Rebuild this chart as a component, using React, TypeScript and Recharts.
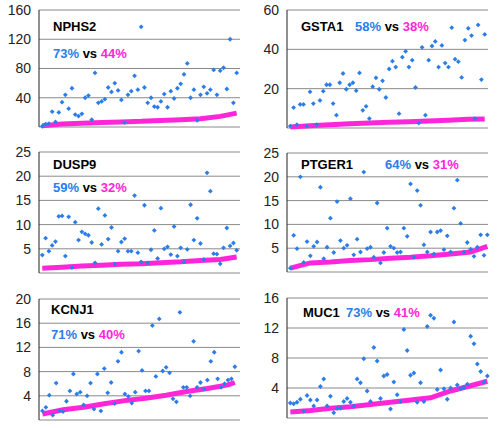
import React from 'react';
import { ScatterChart, Scatter, XAxis, YAxis, CartesianGrid } from 'recharts';

const BLUE = '#2b7de9';
const PINK = '#ff26d9';

// blue dots, one per sample, in the order they appear left to right
const nphs2Blue = [1, 4, 4.5, 21, 7, 20, 34, 44, 25, 53, 17, 15, 18, 40, 43, 10, 74, 33, 35, 38, 54, 48, 60, 50, 37, 6, 44, 49, 70, 51, 137, 54, 33, 40, 28, 27, 35, 45, 27, 49, 39, 53, 59, 72, 87, 40, 51, 9, 44, 55, 46, 51, 78, 44, 77, 81, 52, 120, 33, 74];
const gsta1Blue = [1, 10.4, 1.7, 12, 12, 1, 18.4, 12.4, 1.7, 14, 18.7, 22, 22, 12.4, 6.5, 23, 27.7, 19.7, 22, 23, 19, 28, 9, 11, 4.8, 21, 25.5, 19.7, 24, 15.5, 30, 34, 31, 7.3, 36, 39, 31, 34.5, 20.6, 2.5, 41, 6.5, 34.5, 41.7, 44, 31, 42, 33, 31, 51, 35, 33.7, 25.7, 44.7, 50.7, 47, 4.8, 52.4, 24.6, 47.6];
const dusp9Blue = [3.7, 7.2, 4.5, 5.7, 6.5, 11.7, 11.8, 3.5, 11.6, 1.1, 10.5, 6.8, 8.5, 8.1, 7.8, 6.3, 2.1, 13.3, 5.9, 11.9, 7, 9.4, 1.9, 4.5, 6.4, 7.1, 4.5, 4.5, 16, 4.2, 2.3, 14, 2.1, 4.8, 8.8, 3, 13.4, 5, 5.4, 3.8, 9.6, 3.5, 5.2, 2.3, 4.9, 14.1, 6.8, 11.3, 6.1, 2.8, 20.7, 16.9, 4, 3.9, 1.9, 5.2, 9.3, 5.6, 6.2, 4.7];
const ptger1Blue = [0.8, 7.7, 4.9, 20, 2, 6.4, 3.4, 5.4, 6.3, 17.8, 2.8, 5.2, 11.3, 4.1, 14.8, 6.6, 5, 5.6, 15.4, 3.6, 6.9, 4.2, 21, 4.9, 5.2, 3.1, 14.5, 1.9, 4.1, 9.2, 5.4, 5, 4.1, 4.2, 9.2, 7.5, 18.5, 3.1, 17.1, 14, 5.7, 4.2, 8.4, 3.8, 8.4, 8.7, 4.7, 7.6, 4.2, 13.4, 19.3, 10.2, 4.2, 6.2, 4.8, 3.3, 5.2, 7.8, 3.5, 7.8];
const kcnj1Blue = [1.5, 2.1, 4.1, 0.8, 6.1, 1.5, 1.4, 3.1, 4.8, 7.6, 4.3, 4.6, 2.5, 4, 6.1, 1.8, 7.6, 1.5, 8.5, 4.5, 6.2, 2.7, 9.7, 11.2, 4.3, 3.9, 2.8, 4.6, 11.4, 8.2, 4.8, 4.8, 15.6, 7.2, 16.7, 8.1, 8.7, 7.8, 3.5, 3, 17.8, 5.4, 5.4, 4, 13, 5.4, 6.2, 5.1, 6.6, 9.7, 11.2, 6.8, 5.4, 6, 6.6, 6.8, 8.8];
const muc1Blue = [2, 1.9, 2.1, 2.5, 0.9, 3, 2.4, 1.6, 2.4, 4.2, 5.2, 1.6, 2.9, 0.7, 1.3, 1.3, 2.2, 2.6, 2.1, 1.6, 5.2, 4.7, 7.9, 3.6, 2.2, 9.4, 7.6, 2.6, 5.6, 5.8, 1.2, 4.8, 3.1, 2.2, 11.8, 9, 5.7, 6, 2.1, 4.7, 2.2, 12.2, 13.7, 13.3, 3.8, 6.4, 3.9, 2.5, 4, 12.8, 4.4, 3.9, 4.1, 4.5, 10.9, 9.9, 7.2, 6.2, 4.8, 5.6];

// magenta (sorted) band, read at these sample positions
const pinkIdx = [0, 6, 12, 18, 24, 30, 36, 42, 48, 54, 59];
const kcnj1PinkIdx = [0, 6, 12, 18, 24, 30, 36, 42, 48, 54, 56];
const nphs2Pink = [1.8, 4, 5, 6, 7, 7.7, 9, 10, 11.4, 14.5, 19];
const gsta1Pink = [0.5, 1.2, 1.7, 2.2, 2.5, 2.9, 3.2, 3.6, 3.9, 4.4, 4.6];
const dusp9Pink = [1.0, 1.2, 1.45, 1.6, 1.8, 1.9, 2.1, 2.3, 2.6, 2.8, 3.3];
const ptger1Pink = [0.8, 1.9, 2.1, 2.4, 2.6, 2.9, 3.1, 3.4, 3.8, 4.2, 5.4];
const kcnj1Pink = [1.0, 1.7, 2.1, 2.7, 3.2, 3.6, 4.1, 4.7, 5.2, 5.8, 6.2];
const muc1Pink = [0.8, 1.0, 1.3, 1.5, 1.8, 2.1, 2.4, 2.7, 3.6, 4.3, 4.9];

const panels = [
  { name: 'NPHS2', a: '73%', b: '44%', blue: nphs2Blue, pink: nphs2Pink, idx: pinkIdx, ticks: [0, 40, 80, 120, 160],
    left: 0, top: 0, w: 249, h: 140, m: { top: 10, right: 9, bottom: 13, left: 0 }, xMax: 60,
    nameAt: [53, 20], pctAt: [53, 47] },
  { name: 'GSTA1', a: '58%', b: '38%', blue: gsta1Blue, pink: gsta1Pink, idx: pinkIdx, ticks: [0, 20, 40, 60],
    left: 248, top: 0, w: 250, h: 141, m: { top: 10, right: 10, bottom: 13, left: 0 }, xMax: 60,
    nameAt: [301, 20], pctAt: [355, 20] },
  { name: 'DUSP9', a: '59%', b: '32%', blue: dusp9Blue, pink: dusp9Pink, idx: pinkIdx, ticks: [0, 5, 10, 15, 20, 25],
    left: 0, top: 140, w: 249, h: 143, m: { top: 12, right: 9, bottom: 10, left: 0 }, xMax: 60,
    nameAt: [53, 158], pctAt: [53, 181] },
  { name: 'PTGER1', a: '64%', b: '31%', blue: ptger1Blue, pink: ptger1Pink, idx: pinkIdx, ticks: [0, 5, 10, 15, 20, 25],
    left: 248, top: 140, w: 250, h: 143, m: { top: 13, right: 10, bottom: 11, left: 0 }, xMax: 59.2,
    nameAt: [301, 158], pctAt: [385, 158] },
  { name: 'KCNJ1', a: '71%', b: '40%', blue: kcnj1Blue, pink: kcnj1Pink, idx: kcnj1PinkIdx, ticks: [0, 4, 8, 12, 16, 20],
    left: 0, top: 283, w: 249, h: 145, m: { top: 16, right: 9, bottom: 8, left: 0 }, xMax: 57.5,
    nameAt: [51, 303], pctAt: [51, 328] },
  { name: 'MUC1', a: '73%', b: '41%', blue: muc1Blue, pink: muc1Pink, idx: pinkIdx, ticks: [0, 4, 8, 12, 16],
    left: 248, top: 283, w: 250, h: 145, m: { top: 15, right: 10, bottom: 10, left: 0 }, xMax: 59.2,
    nameAt: [303, 306], pctAt: [346, 306] },
];

const Dot = (props: any) => {
  const { cx, cy } = props;
  if (cx == null || cy == null) return <g />;
  const r = 2.4;
  return <polygon points={`${cx},${cy - r} ${cx + r},${cy} ${cx},${cy + r} ${cx - r},${cy}`} fill={BLUE} />;
};

const textStyle: React.CSSProperties = {
  position: 'absolute',
  fontFamily: '"Liberation Sans", Arial, sans-serif',
  fontWeight: 700,
  fontSize: 13,
  lineHeight: '14px',
  whiteSpace: 'nowrap',
};

function Panel({ p }: { p: (typeof panels)[number] }) {
  const blueData = p.blue.map((v, i) => ({ x: i, y: v }));
  const pinkData = p.pink.map((v, i) => ({ x: p.idx[i], y: v }));
  const top = p.ticks[p.ticks.length - 1];
  return (
    <div style={{ position: 'absolute', left: p.left, top: p.top }}>
      <ScatterChart width={p.w} height={p.h} margin={p.m}>
        <CartesianGrid vertical={false} stroke="#8a8a8a" />
        <XAxis type="number" dataKey="x" domain={[-1, p.xMax]} hide />
        <YAxis
          type="number"
          dataKey="y"
          domain={[0, top]}
          ticks={p.ticks}
          width={39}
          interval={0}
          tickLine={false}
          axisLine={{ stroke: '#222' }}
          tickFormatter={(v) => (v === 0 ? '' : String(v))}
          tick={{ fill: '#222', fontSize: 14, fontFamily: '"Liberation Sans", Arial, sans-serif' }}
        />
        <Scatter
          data={pinkData}
          line={{ stroke: PINK, strokeWidth: 5 }}
          shape={() => <g />}
          isAnimationActive={false}
        />
        <Scatter data={blueData} shape={Dot} isAnimationActive={false} />
      </ScatterChart>
    </div>
  );
}

export default function App() {
  return (
    <div style={{ position: 'absolute', left: 0, top: 0, width: 498, height: 428, background: '#fff', overflow: 'hidden' }}>
      {panels.map((p) => (
        <Panel key={p.name} p={p} />
      ))}
      {panels.map((p) => (
        <React.Fragment key={p.name + '-t'}>
          <div style={{ ...textStyle, left: p.nameAt[0], top: p.nameAt[1], color: '#000' }}>{p.name}</div>
          <div style={{ ...textStyle, left: p.pctAt[0], top: p.pctAt[1] }}>
            <span style={{ color: BLUE }}>{p.a}</span>
            <span style={{ color: '#000' }}> vs </span>
            <span style={{ color: PINK }}>{p.b}</span>
          </div>
        </React.Fragment>
      ))}
    </div>
  );
}
